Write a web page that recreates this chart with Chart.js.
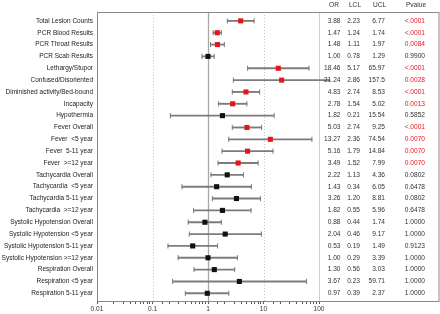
<!DOCTYPE html>
<html lang="en">
  <head>
    <meta charset="UTF-8" />
    <title>forest</title>
    <script src="https://cdn.jsdelivr.net/npm/chart.js@4.4.1/dist/chart.umd.min.js"></script>
    <style>
      html, body { margin: 0; padding: 0; background: #fff; }
      .chart-view { width: 440px; height: 314px; }
    </style>
  </head>
  <body>
    <div class="chart-view">
      <canvas id="chart"></canvas>
    </div>

    <script>
      const rowLabels = [
        'Total Lesion Counts', 'PCR Blood Results', 'PCR Throat Results', 'PCR Scab Results',
        'Lethargy/Stupor', 'Confused/Disoriented', 'Diminished activity/Bed-bound', 'Incapacity',
        'Hypothermia', 'Fever Overall', 'Fever  <5 year', 'Fever  5-11 year', 'Fever  >=12 year',
        'Tachycardia Overall', 'Tachycardia  <5 year', 'Tachycardia 5-11 year', 'Tachycardia  >=12 year',
        'Systolic Hypotension Overall', 'Systolic Hypotension <5 year', 'Systolic Hypotension 5-11 year',
        'Systolic Hypotension >=12 year', 'Respiration Overall', 'Respiration <5 year', 'Respiration 5-11 year'
      ];
      const orValues = [3.88, 1.47, 1.48, 1.00, 18.46, 21.24, 4.83, 2.78, 1.82, 5.03, 13.27, 5.16, 3.49,
        2.22, 1.43, 3.26, 1.82, 0.88, 2.04, 0.53, 1.00, 1.30, 3.67, 0.97];
      const lclValues = [2.23, 1.24, 1.11, 0.78, 5.17, 2.86, 2.74, 1.54, 0.21, 2.74, 2.36, 1.79, 1.52,
        1.13, 0.34, 1.20, 0.55, 0.44, 0.46, 0.19, 0.29, 0.56, 0.23, 0.39];
      const uclValues = [6.77, 1.74, 1.97, 1.29, 65.97, 157.5, 8.53, 5.02, 15.54, 9.25, 74.54, 14.84, 7.99,
        4.36, 6.05, 8.81, 5.96, 1.74, 9.17, 1.49, 3.39, 3.03, 59.71, 2.37];
      const pValues = ['<.0001', '<.0001', '0.0084', '0.9900', '<.0001', '0.0028', '<.0001', '0.0013',
        '0.5852', '<.0001', '0.0070', '0.0070', '0.0070', '0.0802', '0.6478', '0.0802', '0.6478',
        '1.0000', '1.0000', '0.9123', '1.0000', '1.0000', '1.0000', '1.0000'];
      const xTickLabels = [0.01, 0.1, 1, 10, 100];

      const RED = '#e8141a';
      const FONT = 'Liberation Sans, Arial, sans-serif';
      const isSig = (p) => p.startsWith('<') || parseFloat(p) < 0.05;
      const fmt = (v) => (v >= 100 ? v.toFixed(1) : v.toFixed(2));

      //data
      const data = {
        datasets: [
          {
            type: 'scatter',
            data: orValues.map((v, i) => ({ x: v, y: i })),
            pointStyle: 'rect',
            radius: 3.6,
            hoverRadius: 3.6,
            borderWidth: 0,
            backgroundColor: pValues.map((p) => (isSig(p) ? RED : '#111')),
            clip: false
          },
          {
            type: 'scatter',
            data: lclValues.map((v, i) => ({ x: v, y: i })).concat(uclValues.map((v, i) => ({ x: v, y: i }))),
            pointStyle: 'line',
            rotation: 90,
            radius: 2.6,
            hoverRadius: 2.6,
            borderWidth: 1,
            borderColor: '#7c7c7c',
            clip: false
          },
          {
            type: 'bar',
            indexAxis: 'y',
            data: lclValues.map((v, i) => ({ x: [v, uclValues[i]], y: i })),
            backgroundColor: '#7c7c7c',
            barThickness: 1.2,
            clip: false
          }
        ]
      };

      //table + frame + reference lines
      const forestPlugin = {
        id: 'forest',
        beforeDatasetsDraw(chart) {
          const { ctx, chartArea: a, scales: { x } } = chart;
          ctx.save();
          const refs = [
            { v: 0.1, c: '#c4c4c4', w: 1, d: [1, 2] },
            { v: 1, c: '#a8a8a8', w: 1.3, d: [] },
            { v: 10, c: '#c4c4c4', w: 1, d: [1, 2] },
            { v: 100, c: '#cfcfcf', w: 1, d: [] }
          ];
          refs.forEach((r) => {
            const px = Math.round(x.getPixelForValue(r.v)) + 0.5;
            ctx.strokeStyle = r.c;
            ctx.lineWidth = r.w;
            ctx.setLineDash(r.d);
            ctx.beginPath();
            ctx.moveTo(px, a.top);
            ctx.lineTo(px, a.bottom);
            ctx.stroke();
          });
          ctx.setLineDash([]);
          // frame
          ctx.strokeStyle = '#8a8a8a';
          ctx.lineWidth = 1;
          ctx.strokeRect(a.left + 0.5, a.top + 0.5, chart.width - a.left - 1.5, a.bottom - a.top);
          ctx.restore();
        },
        afterDraw(chart) {
          const { ctx, chartArea: a, scales: { y } } = chart;
          ctx.save();
          ctx.font = '6.6px ' + FONT;
          ctx.textBaseline = 'middle';
          ctx.fillStyle = '#333';
          ctx.textAlign = 'center';
          [['OR', 334], ['LCL', 355], ['UCL', 379.5], ['Pvalue', 416]].forEach(([t, cx]) => {
            ctx.fillText(t, cx, a.top - 7);
          });
          ctx.textAlign = 'right';
          rowLabels.forEach((_, i) => {
            const py = y.getPixelForValue(i);
            ctx.fillStyle = '#333';
            ctx.fillText(fmt(orValues[i]), 340.5, py);
            ctx.fillText(fmt(lclValues[i]), 360, py);
            ctx.fillText(fmt(uclValues[i]), 385, py);
            ctx.fillStyle = isSig(pValues[i]) ? RED : '#333';
            ctx.fillText(pValues[i], 425, py);
          });
          ctx.restore();
        }
      };

      //config
      const config = {
        type: 'bar',
        data: data,
        options: {
          responsive: true,
          maintainAspectRatio: false,
          animation: false,
          events: [],
          layout: { padding: { top: 12, right: 121, left: 0, bottom: 0 } },
          plugins: {
            legend: { display: false },
            tooltip: { enabled: false }
          },
          scales: {
            x: {
              type: 'logarithmic',
              min: 0.01,
              max: 100,
              offset: false,
              afterFit: (s) => { s.height = 13; },
              grid: {
                offset: false,
                drawOnChartArea: false,
                tickLength: 3,
                tickColor: '#555'
              },
              border: { color: '#444', width: 1 },
              ticks: {
                autoSkip: false,
                maxRotation: 0,
                padding: 1,
                color: '#333',
                font: { family: FONT, size: 6.6 },
                callback: (v) => {
                  const n = Number(Number(v).toPrecision(3));
                  return xTickLabels.includes(n) ? String(n) : '';
                }
              }
            },
            y: {
              type: 'linear',
              reverse: true,
              offset: false,
              min: -0.75,
              max: 23.65,
              afterFit: (s) => { s.width = 97; },
              afterBuildTicks: (s) => { s.ticks = rowLabels.map((_, i) => ({ value: i })); },
              grid: { display: false, drawTicks: false, offset: false },
              border: { display: false },
              ticks: {
                padding: 4,
                color: '#222',
                font: { family: FONT, size: 6.5 },
                callback: (v) => rowLabels[v]
              }
            }
          }
        },
        plugins: [forestPlugin]
      };

      //init
      const ctx = document.getElementById('chart');
      const chart = new Chart(ctx, config);
    </script>
  </body>
</html>
